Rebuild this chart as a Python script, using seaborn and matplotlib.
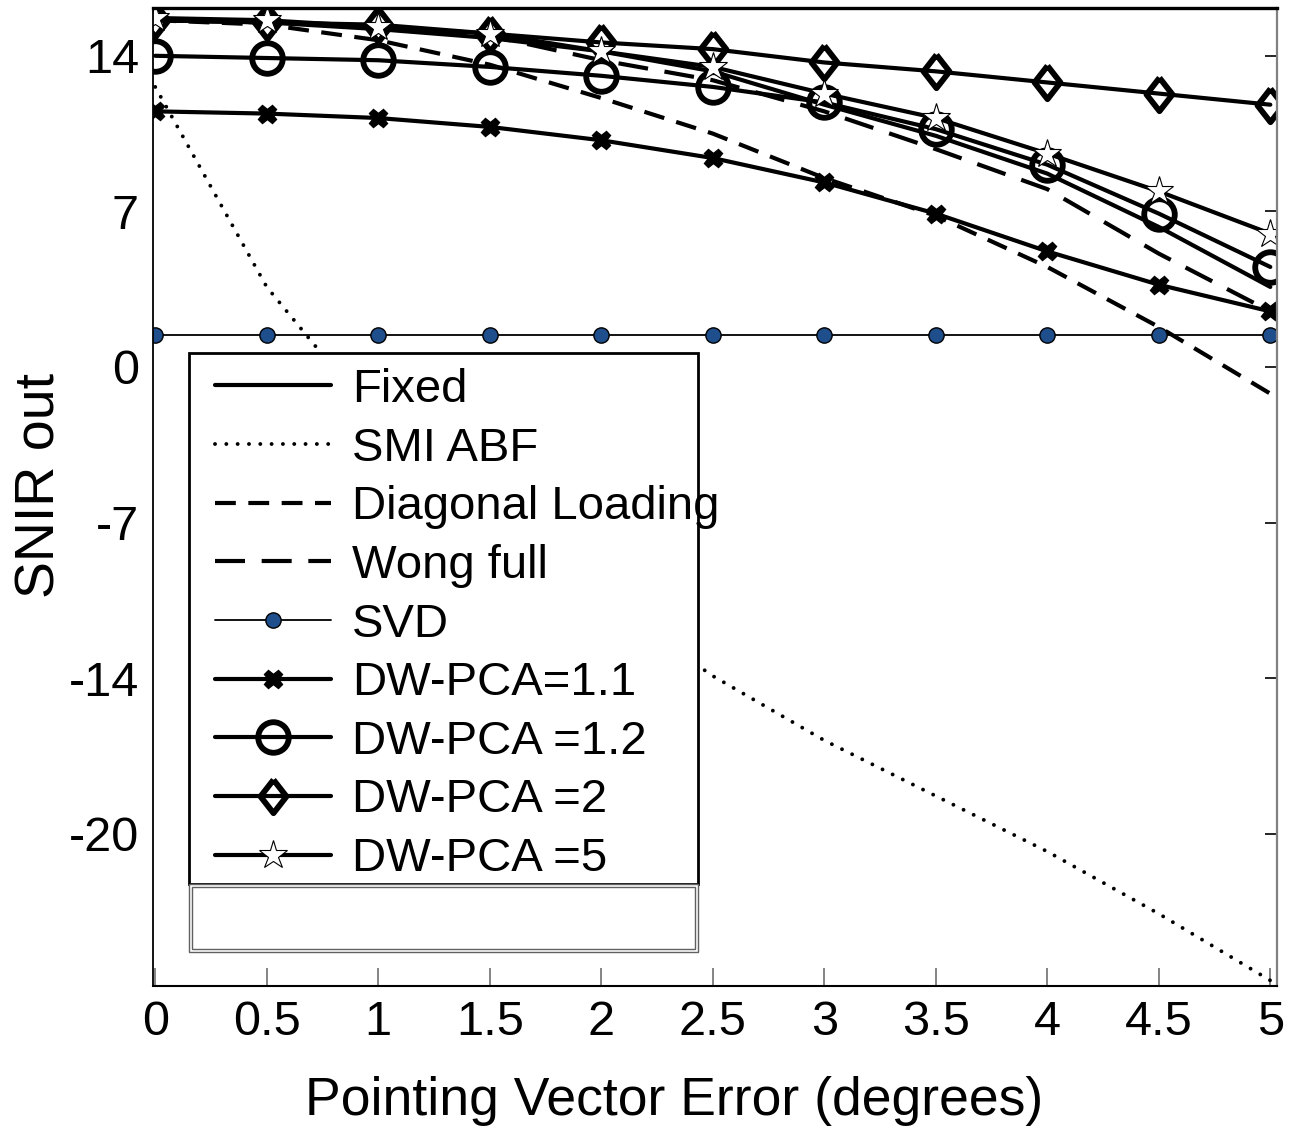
#Recreates the SNIR out vs pointing vector error chart for several beamformers.

#Importing libraries.
import matplotlib
matplotlib.use("Agg")
import matplotlib.pyplot as plt
from matplotlib.patches import Rectangle
import seaborn as sns

#Pointing vector error (degrees).
pve = [0, 0.5, 1, 1.5, 2, 2.5, 3, 3.5, 4, 4.5, 5]

#SNIR out for each method.
fixed = [15.6, 15.5, 15.2, 14.8, 14.2, 13.3, 11.8, 10.4, 8.7, 6.3, 3.6]
smi_abf = [12.6, 3.6, -2.5, -6.8, -10.4, -13.9, -16.8, -19.3, -21.8, -24.6, -27.6]
diag_loading = [15.6, 15.4, 14.7, 13.6, 12.1, 10.5, 8.5, 6.8, 4.5, 1.8, -1.2]
wong_full = [15.6, 15.5, 15.3, 14.9, 13.8, 12.9, 11.5, 9.8, 8.0, 5.1, 2.5]
svd = [1.45, 1.45, 1.45, 1.45, 1.45, 1.45, 1.45, 1.45, 1.45, 1.45, 1.45]
dw_pca_11 = [11.5, 11.4, 11.2, 10.8, 10.2, 9.4, 8.3, 6.9, 5.2, 3.7, 2.5]
dw_pca_12 = [14.0, 13.9, 13.8, 13.5, 13.1, 12.6, 11.9, 10.7, 9.1, 6.9, 4.5]
dw_pca_2 = [15.6, 15.5, 15.4, 15.0, 14.6, 14.3, 13.7, 13.3, 12.8, 12.3, 11.8]
dw_pca_5 = [15.7, 15.6, 15.3, 15.0, 14.2, 13.5, 12.3, 11.2, 9.6, 7.9, 6.0]

#Axis ticks.
y_ticks = [14, 7, 0, -7, -14, -21]
y_tick_labels = ['14', '7', '0', '-7', '-14', '-20']
x_ticks = [0, 0.5, 1, 1.5, 2, 2.5, 3, 3.5, 4, 4.5, 5]
x_tick_labels = ['0', '0.5', '1', '1.5', '2', '2.5', '3', '3.5', '4', '4.5', '5']

sns.set_style('white')
plt.rcParams['font.family'] = ['Liberation Sans', 'DejaVu Sans']
plt.rcParams['text.color'] = 'black'
plt.rcParams['axes.labelcolor'] = 'black'

fig = plt.figure(figsize=(13.01, 11.27), dpi=100)
ax = fig.add_axes([153 / 1301, 1 - 986 / 1127, 1124 / 1301, 978 / 1127])

#Slightly tall diamond like the original marker.
diamond = [(0, 1), (0.78, 0), (0, -1), (-0.78, 0), (0, 1)]

lw = 3.0
sns.lineplot(x=pve, y=fixed, ax=ax, color='black', lw=lw, label='Fixed')
sns.lineplot(x=pve, y=smi_abf, ax=ax, color='black', lw=2.8,
             linestyle=(0, (0.01, 2.9)), dash_capstyle='round', label='SMI ABF')
sns.lineplot(x=pve, y=diag_loading, ax=ax, color='black', lw=lw,
             linestyle=(0, (5.0, 3.0)), label='Diagonal Loading')
sns.lineplot(x=pve, y=wong_full, ax=ax, color='black', lw=lw,
             linestyle=(0, (7.2, 4.0)), label='Wong full')
sns.lineplot(x=pve, y=svd, ax=ax, color='black', lw=1.3, marker='o', ms=11,
             mfc='#1f4e8c', mec='black', mew=1.0, label='SVD')
sns.lineplot(x=pve, y=dw_pca_11, ax=ax, color='black', lw=lw, marker='X', ms=13,
             mfc='black', mec='black', mew=1.0, label='DW-PCA=1.1')
sns.lineplot(x=pve, y=dw_pca_12, ax=ax, color='black', lw=lw, marker='o', ms=22,
             mfc='none', mec='black', mew=4.2, label='DW-PCA =1.2')
sns.lineplot(x=pve, y=dw_pca_2, ax=ax, color='black', lw=lw, marker=diamond, ms=24,
             mfc='none', mec='black', mew=4.2, label='DW-PCA =2')
sns.lineplot(x=pve, y=dw_pca_5, ax=ax, color='black', lw=lw, marker='*', ms=21,
             mfc='white', mec='black', mew=0.8, label='DW-PCA =5')

ax.set_xlim(-0.01, 5.03)
ax.set_ylim(-27.85, 16.15)
ax.set_xticks(x_ticks)
ax.set_xticklabels(x_tick_labels)
ax.set_yticks(y_ticks)
ax.set_yticklabels(y_tick_labels)
ax.tick_params(axis='both', direction='in', labelsize=35, length=9, width=1.2,
               colors='black', pad=10)
ax.tick_params(axis='y', right=True)
ax.tick_params(axis='x', bottom=True, length=13, color='#707070', pad=10)
for t in ax.yaxis.get_major_ticks():
    t.tick2line.set_color('#808080')

for side in ['left', 'bottom', 'top', 'right']:
    ax.spines[side].set_visible(True)
ax.spines['left'].set_color('black')
ax.spines['left'].set_linewidth(1.3)
ax.spines['bottom'].set_color('black')
ax.spines['bottom'].set_linewidth(1.5)
ax.spines['top'].set_color('black')
ax.spines['top'].set_linewidth(2.4)
ax.spines['right'].set_color('#808080')
ax.spines['right'].set_linewidth(1.6)

ax.set_xlabel('Pointing Vector Error (degrees)', fontsize=38.5)
ax.set_ylabel('SNIR out', fontsize=40)
ax.xaxis.set_label_coords(0.464, -0.092)
ax.yaxis.set_label_coords(-0.077, 0.512)

#Legend box drawn as patches so the long label can spill over like the original.
box = Rectangle((189 / 1301, 1 - 884 / 1127), 509 / 1301, 531 / 1127,
                transform=fig.transFigure, facecolor='white', edgecolor='black',
                lw=2.0, zorder=5, clip_on=False)
ax.add_patch(box)
box_low = Rectangle((189 / 1301, 1 - 952 / 1127), 509 / 1301, 68 / 1127,
                    transform=fig.transFigure, facecolor='white', edgecolor='#606060',
                    lw=1.0, zorder=5, clip_on=False)
ax.add_patch(box_low)
box_low_in = Rectangle((192 / 1301, 1 - 949 / 1127), 503 / 1301, 62 / 1127,
                       transform=fig.transFigure, facecolor='none', edgecolor='#606060',
                       lw=1.0, zorder=5, clip_on=False)
ax.add_patch(box_low_in)

handles, labels = ax.get_legend_handles_labels()
leg = ax.legend(handles, labels, loc='upper left', frameon=False, fontsize=34,
                bbox_to_anchor=(215 / 1301, 1 - 368 / 1127),
                bbox_transform=fig.transFigure, borderpad=0, borderaxespad=0,
                handlelength=2.45, handletextpad=0.45, labelspacing=0.31)
leg.set_zorder(6)

plt.savefig('out.png', dpi=100)
